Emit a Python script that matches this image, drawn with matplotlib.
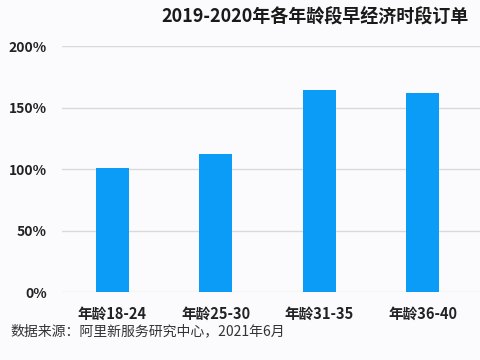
import matplotlib
matplotlib.use("Agg")
import matplotlib.pyplot as plt
from matplotlib.ticker import FuncFormatter

plt.rcParams['font.family'] = ['Noto Sans CJK SC', 'DejaVu Sans']

# data
age_groups = ['年龄18-24', '年龄25-30', '年龄31-35', '年龄36-40']
growth = [101, 112, 164, 162]  # percent
y_ticks = [0, 50, 100, 150, 200]

# the reference crops the title at the right edge; keep the visible part
title = '2019-2020年各年龄段早经济时段订单'
source = '数据来源：阿里新服务研究中心，2021年6月'

bg = '#fbfbfd'
bar_color = '#0a9cf6'

fig = plt.figure(figsize=(4.8, 3.6), dpi=100, facecolor=bg)
ax = fig.add_axes([0.129, 0.188, 0.871, 0.684], facecolor=bg)

x = range(len(age_groups))
ax.bar(x, growth, width=0.315, color=bar_color, zorder=3)

ax.set_xlim(-0.486, 3.553)
ax.set_ylim(0, 200)
ax.set_yticks(y_ticks)
ax.yaxis.set_major_formatter(FuncFormatter(lambda v, p: f'{int(v)}%'))
ax.set_xticks(list(x))
ax.set_xticklabels(age_groups)

ax.grid(axis='y', color='#d9d9d9', linewidth=1.0, zorder=0)
ax.set_axisbelow(True)
for s in ax.spines.values():
    s.set_visible(False)
ax.tick_params(axis='both', length=0, colors='#222222')
ax.tick_params(axis='y', pad=11, labelsize=10)
ax.tick_params(axis='x', pad=10, labelsize=10.5)
for lbl in ax.get_yticklabels() + ax.get_xticklabels():
    lbl.set_fontweight('bold')

fig.text(161 / 480, 1 - 17 / 360, title, ha='left', va='center',
         fontsize=13, fontweight='bold', color='#1a1a1a')
fig.text(10 / 480, 1 - 331 / 360, source, ha='left', va='center',
         fontsize=10, style='italic', color='#333333')

fig.savefig('out.png', dpi=100, facecolor=bg)
